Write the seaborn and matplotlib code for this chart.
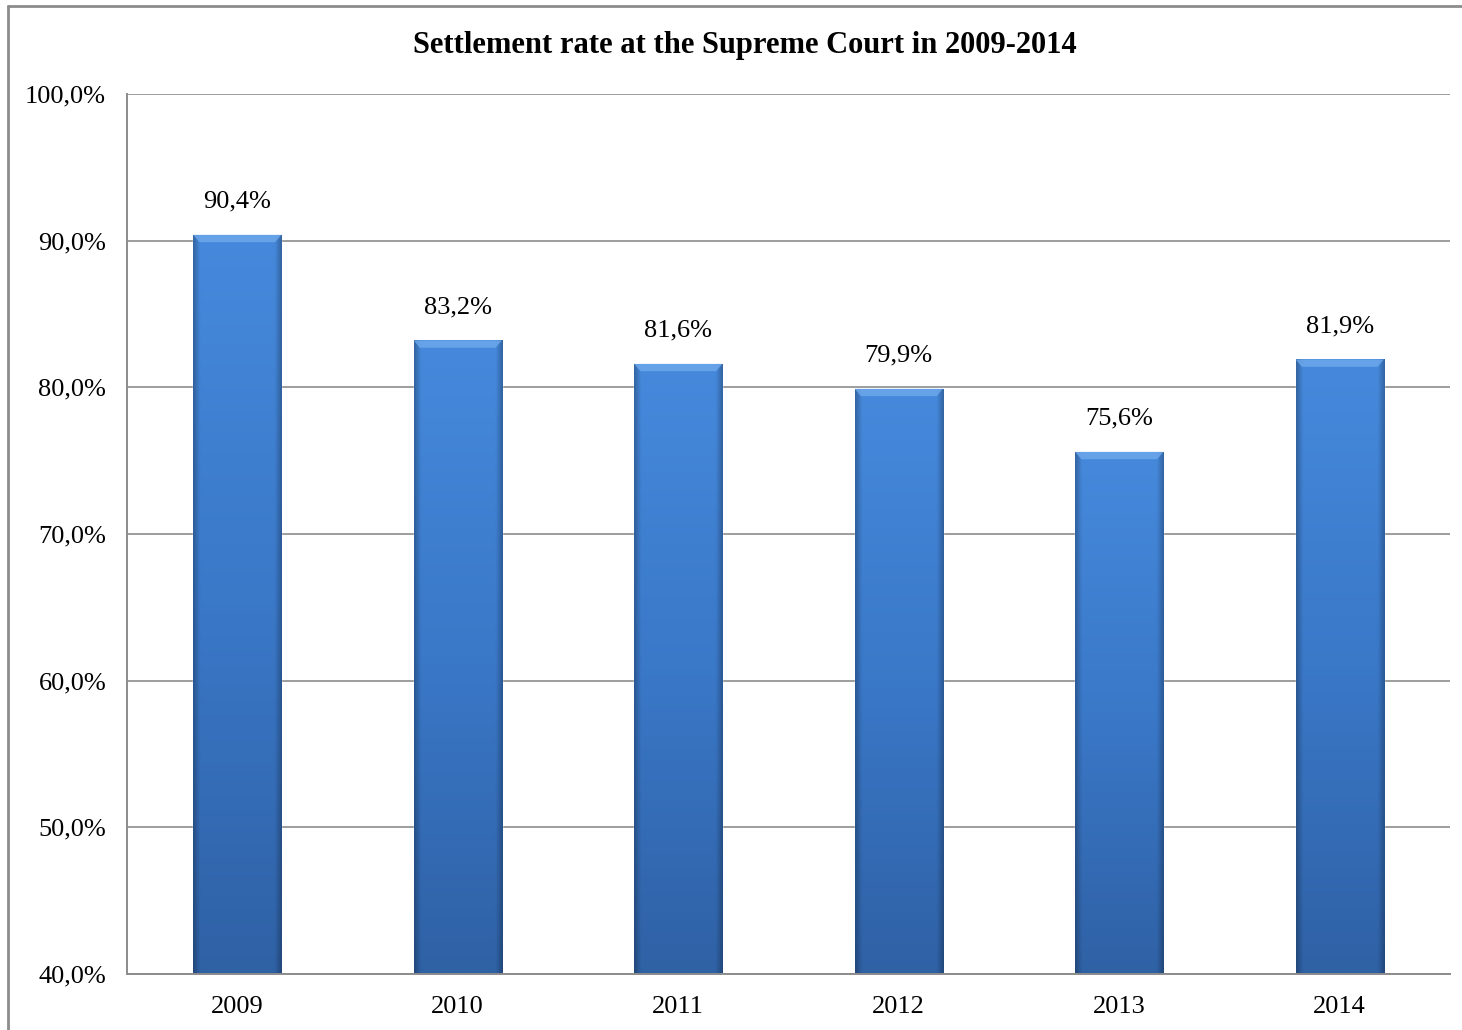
import matplotlib

matplotlib.use("Agg")
import matplotlib.pyplot as plt
import numpy as np
import pandas as pd
import seaborn as sns
from matplotlib.colors import LinearSegmentedColormap
from matplotlib.lines import Line2D
from matplotlib.ticker import FuncFormatter


years = ["2009", "2010", "2011", "2012", "2013", "2014"]
rates = [90.4, 83.2, 81.6, 79.9, 75.6, 81.9]
y_ticks = [40, 50, 60, 70, 80, 90, 100]

TITLE = "Settlement rate at the Supreme Court in 2009-2014"


def comma_pct(v, _pos=None):
    return f"{v:.1f}%".replace(".", ",")


def shade_bars(ax):
    # vertical gradient + darker side edges, clipped to each bar
    cmap_v = LinearSegmentedColormap.from_list("v", ["#2f61a5", "#3a78c8", "#4689dc"])
    ny, nx = 200, 60
    yy = np.linspace(0, 1, ny)[:, None]
    xx = np.linspace(-1, 1, nx)[None, :]
    base = cmap_v(np.repeat(yy, nx, axis=1))
    edge = np.clip(np.abs(xx) - 0.85, 0, None) / 0.15
    base[..., :3] *= (1 - 0.25 * edge)[..., None]
    bottom = ax.get_ylim()[0]
    for patch in ax.patches:
        x0, y0 = patch.get_x(), patch.get_y()
        w, h = patch.get_width(), patch.get_height()
        im = ax.imshow(base, extent=[x0, x0 + w, bottom, y0 + h], origin="lower",
                       aspect="auto", zorder=2, interpolation="bilinear")
        im.set_clip_path(patch)
        # bevel highlight on the top
        top = y0 + h
        ax.fill([x0, x0 + w, x0 + w * 0.93, x0 + w * 0.07], [top, top, top - 0.5, top - 0.5],
                color="#6fa9ec", alpha=0.8, zorder=3, linewidth=0)
        patch.set_facecolor("none")


def main():
    sns.set_theme(style="white")
    plt.rcParams["font.family"] = ["Liberation Serif", "DejaVu Serif"]
    plt.rcParams["text.color"] = "black"

    data = pd.DataFrame({"Year": years, "Rate": rates})

    fig = plt.figure(figsize=(14.62, 10.30), dpi=100)
    ax = fig.add_axes([127 / 1462, 1 - 974 / 1030, (1450 - 127) / 1462, (974 - 94) / 1030])

    sns.barplot(data=data, x="Year", y="Rate", color="#3a78c8", width=0.4,
                saturation=1, ax=ax, zorder=2)
    ax.set_ylim(y_ticks[0], y_ticks[-1])
    ax.set_xlim(-0.5, len(years) - 0.5)
    shade_bars(ax)

    ax.set_yticks(y_ticks)
    ax.yaxis.set_major_formatter(FuncFormatter(comma_pct))
    ax.grid(axis="y", color="#8c8c8c", linewidth=1.2, zorder=0)
    ax.set_axisbelow(True)
    for side in ["top", "right"]:
        ax.spines[side].set_visible(False)
    for side in ["left", "bottom"]:
        ax.spines[side].set_color("#8c8c8c")
        ax.spines[side].set_linewidth(1.4)
    ax.tick_params(axis="both", length=0, labelsize=19, colors="black")
    ax.tick_params(axis="y", pad=15)
    ax.tick_params(axis="x", pad=16)
    ax.set_xlabel("")
    ax.set_ylabel("")

    for i, v in enumerate(rates):
        ax.text(i, v + 1.5, comma_pct(v), ha="center", va="bottom", fontsize=19, color="black")

    fig.text(745 / 1462, 1 - 46 / 1030, TITLE, ha="center", va="center",
             fontsize=22, fontweight="bold", color="black")

    # outer chart border (left and top edges visible)
    fig.add_artist(Line2D([8 / 1462, 8 / 1462], [0, 1 - 6 / 1030], color="#8c8c8c",
                          linewidth=2, transform=fig.transFigure))
    fig.add_artist(Line2D([8 / 1462, 1], [1 - 6 / 1030, 1 - 6 / 1030], color="#8c8c8c",
                          linewidth=2, transform=fig.transFigure))

    fig.savefig("out.png", dpi=100, facecolor="white")
    plt.close(fig)


if __name__ == "__main__":
    main()
